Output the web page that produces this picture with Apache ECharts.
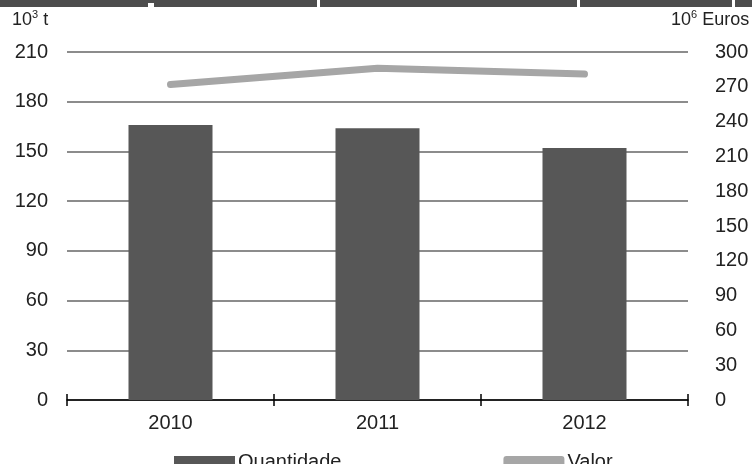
<!DOCTYPE html>
<html>
<head>
<meta charset="utf-8">
<script src="https://cdn.jsdelivr.net/npm/echarts@6/dist/echarts.min.js"></script>
<style>html,body{margin:0;padding:0;background:#fff}#c{width:752px;height:464px}</style>
</head>
<body>
<div id="c"></div>
<script>
var categories = ['2010', '2011', '2012'];
var quantidade = [166, 164, 152];
var valor = [272, 286, 281];
var leftTicks = { min: 0, max: 210, interval: 30 };
var rightTicks = { min: 0, max: 300, interval: 30 };
var leftUnit = ['10', '3', ' t'];
var rightUnit = ['10', '6', ' Euros'];

var FONT = 'Liberation Sans, Arial, sans-serif';
function unitText(u) { return '{a|' + u[0] + '}{s|' + u[1] + '}{a|' + u[2] + '}'; }
var unitRich = {
  a: { fontFamily: FONT, fontSize: 18, fill: '#222', color: '#222', lineHeight: 22 },
  s: { fontFamily: FONT, fontSize: 11, fill: '#222', color: '#222', verticalAlign: 'top', lineHeight: 22 }
};
var chart = echarts.init(document.getElementById('c'), null, { renderer: 'canvas' });
chart.setOption({
  animation: false,
  backgroundColor: '#fff',
  grid: { left: 67, right: 64, top: 52, bottom: 64, containLabel: false },
  graphic: [
    { type: 'rect', shape: { x: 0, y: 0, width: 752, height: 7 }, style: { fill: '#4d4d4d' } },
    { type: 'rect', shape: { x: 317, y: 0, width: 3, height: 7 }, style: { fill: '#fff' } },
    { type: 'rect', shape: { x: 148, y: 3, width: 6, height: 4 }, style: { fill: '#fff' } },
    { type: 'rect', shape: { x: 577, y: 0, width: 3, height: 7 }, style: { fill: '#fff' } },
    { type: 'rect', shape: { x: 732, y: 0, width: 3, height: 7 }, style: { fill: '#fff' } },
    { type: 'text', left: 12, top: 9, style: { text: unitText(leftUnit), rich: unitRich } },
    { type: 'text', left: 671, top: 9, style: { text: unitText(rightUnit), rich: unitRich } }
  ],
  legend: {
    left: 174, top: 452, padding: 0, itemWidth: 61, itemHeight: 12, itemGap: 162,
    textStyle: { fontFamily: FONT, fontSize: 20, color: '#222', padding: [0, 0, 0, -2] },
    data: [
      { name: 'Quantidade', icon: 'rect' },
      { name: 'Valor', icon: 'roundRect', itemStyle: { color: '#a6a6a6' } }
    ]
  },
  xAxis: [
    {
      type: 'category', data: categories, position: 'bottom',
      axisLine: { show: true, lineStyle: { color: '#000', width: 1.5 } },
      axisTick: { show: true, length: 6, lineStyle: { color: '#000', width: 1.5 } },
      axisLabel: { fontFamily: FONT, fontSize: 20, color: '#222', margin: 13 }
    },
    {
      type: 'category', data: categories, position: 'bottom', gridIndex: 0,
      axisLine: { show: false },
      axisTick: { show: true, inside: true, length: 6, lineStyle: { color: '#000', width: 1.5 } },
      axisLabel: { show: false }
    }
  ],
  yAxis: [
    {
      type: 'value', min: leftTicks.min, max: leftTicks.max, interval: leftTicks.interval,
      axisLine: { show: false }, axisTick: { show: false },
      axisLabel: { fontFamily: FONT, fontSize: 20, color: '#222', margin: 19 },
      splitLine: { show: true, lineStyle: { color: '#8c8c8c', width: 2 } }
    },
    {
      type: 'value', min: rightTicks.min, max: rightTicks.max, interval: rightTicks.interval,
      position: 'right',
      axisLine: { show: false }, axisTick: { show: false },
      axisLabel: { fontFamily: FONT, fontSize: 20, color: '#222', margin: 27 },
      splitLine: { show: false }
    }
  ],
  series: [
    {
      name: 'Quantidade', type: 'bar', data: quantidade, xAxisIndex: 0, yAxisIndex: 0,
      barWidth: 84, itemStyle: { color: '#575757' }, z: 3
    },
    {
      name: 'Valor', type: 'line', data: valor, xAxisIndex: 0, yAxisIndex: 1,
      symbol: 'none', lineStyle: { color: '#a6a6a6', width: 7, cap: 'round', join: 'round' },
      itemStyle: { color: '#a6a6a6' }, z: 4
    }
  ]
});
</script>
</body>
</html>
